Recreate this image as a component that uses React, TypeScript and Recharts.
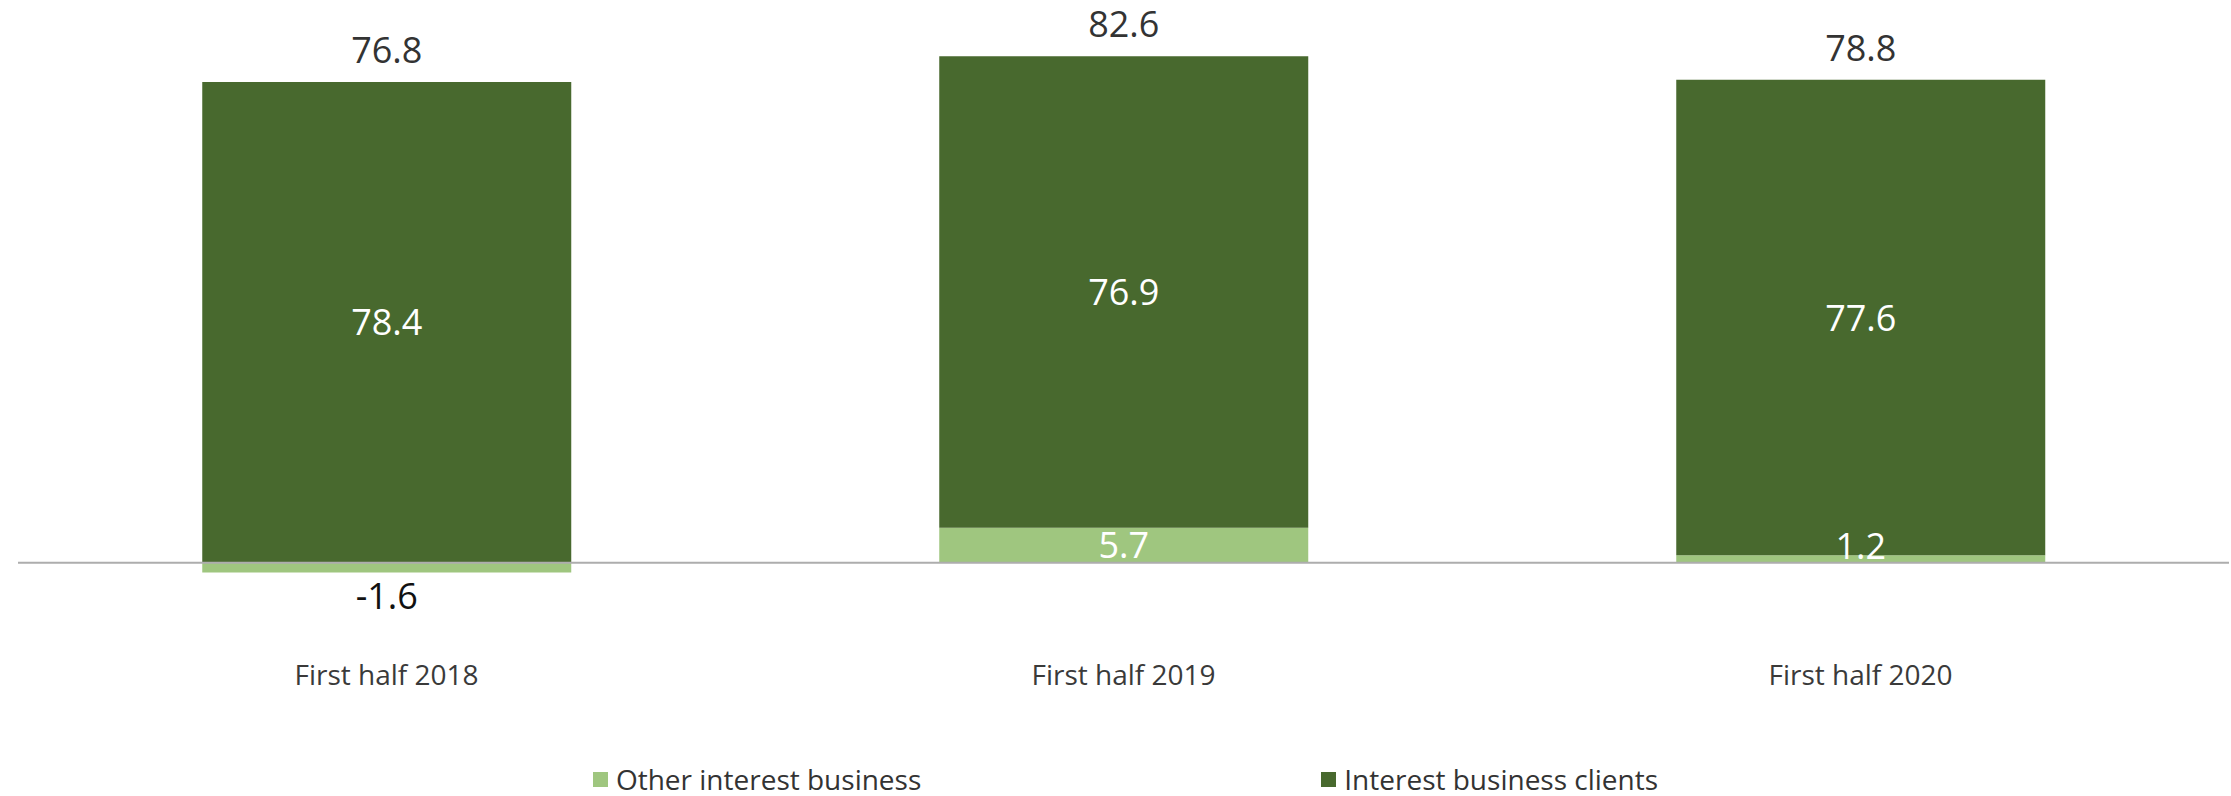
import React from 'react';
import { BarChart, Bar, XAxis, YAxis, ReferenceLine, LabelList, Legend } from 'recharts';

// Net interest income by half-year, split into its two components
const categories = ['First half 2018', 'First half 2019', 'First half 2020'];
const otherInterestBusiness = [-1.6, 5.7, 1.2];
const interestBusinessClients = [78.4, 76.9, 77.6];
const totals = [76.8, 82.6, 78.8];
const seriesNames = ['Other interest business', 'Interest business clients'];

const DARK = '#48692E';
const LIGHT = '#9FC67F';
const FONT = '"Open Sans", sans-serif';

const data = categories.map((category, i) => ({
  category,
  other: otherInterestBusiness[i],
  clients: interestBusinessClients[i],
  total: totals[i],
}));

const fmt = (v: any) => Number(v).toFixed(1);

const box = (p: any) => {
  const y = Number(p.y);
  const h = Number(p.height);
  return {
    top: Math.min(y, y + h),
    bottom: Math.max(y, y + h),
    cx: Number(p.x) + Number(p.width) / 2,
  };
};

const TotalLabel = (p: any) => {
  const { top, cx } = box(p);
  return (
    <text x={cx} y={top - 19} textAnchor="middle" fontFamily={FONT} fontSize={36} fill="#333333">
      {fmt(p.value)}
    </text>
  );
};

const ClientsLabel = (p: any) => {
  const { top, bottom, cx } = box(p);
  return (
    <text x={cx} y={(top + bottom) / 2 + 13} textAnchor="middle" fontFamily={FONT} fontSize={36} fill="#FFFFFF">
      {fmt(p.value)}
    </text>
  );
};

const OtherLabel = (p: any) => {
  const { top, bottom, cx } = box(p);
  if (Number(p.value) < 0) {
    return (
      <text x={cx} y={bottom + 36} textAnchor="middle" fontFamily={FONT} fontSize={36} fill="#111111">
        {fmt(p.value)}
      </text>
    );
  }
  const base = Math.min((top + bottom) / 2 + 13, bottom - 4);
  return (
    <text x={cx} y={base} textAnchor="middle" fontFamily={FONT} fontSize={36} fill="#FFFFFF">
      {fmt(p.value)}
    </text>
  );
};

const CategoryTick = (p: any) => (
  <text x={p.x} y={p.y + 53} textAnchor="middle" fontFamily={FONT} fontSize={28} fill="#3A3A3A">
    {p.payload.value}
  </text>
);

const renderLegend = () => (
  <div
    style={{
      display: 'flex',
      justifyContent: 'center',
      alignItems: 'center',
      gap: 400,
      paddingLeft: 20,
      paddingTop: 10,
      height: 34,
      fontFamily: FONT,
      fontSize: 28,
      lineHeight: '34px',
      color: '#333333',
    }}
  >
    {seriesNames.map((name, i) => (
      <div key={name} style={{ display: 'flex', alignItems: 'center', gap: 8 }}>
        <span style={{ display: 'inline-block', width: 15, height: 15, background: i === 0 ? LIGHT : DARK }} />
        <span>{name}</span>
      </div>
    ))}
  </div>
);

export default function App() {
  return (
    <div style={{ position: 'absolute', left: 0, top: 0, background: '#FFFFFF' }}>
      <BarChart
        width={2231}
        height={796}
        data={data}
        stackOffset="sign"
        barCategoryGap="25%"
        margin={{ top: 11, right: 2, left: 18, bottom: 0 }}
      >
        <XAxis dataKey="category" axisLine={false} tickLine={false} height={128} interval={0} tick={CategoryTick} />
        <YAxis hide domain={[-10, 90]} />
        <Legend verticalAlign="bottom" content={renderLegend} wrapperStyle={{ left: 0, width: 2231 }} />
        <Bar dataKey="other" stackId="a" fill={LIGHT} isAnimationActive={false}>
          <LabelList dataKey="other" content={OtherLabel} />
        </Bar>
        <Bar dataKey="clients" stackId="a" fill={DARK} isAnimationActive={false}>
          <LabelList dataKey="clients" content={ClientsLabel} />
          <LabelList dataKey="total" content={TotalLabel} />
        </Bar>
        <ReferenceLine y={0} stroke="#ADADAD" strokeWidth={2} />
      </BarChart>
    </div>
  );
}
